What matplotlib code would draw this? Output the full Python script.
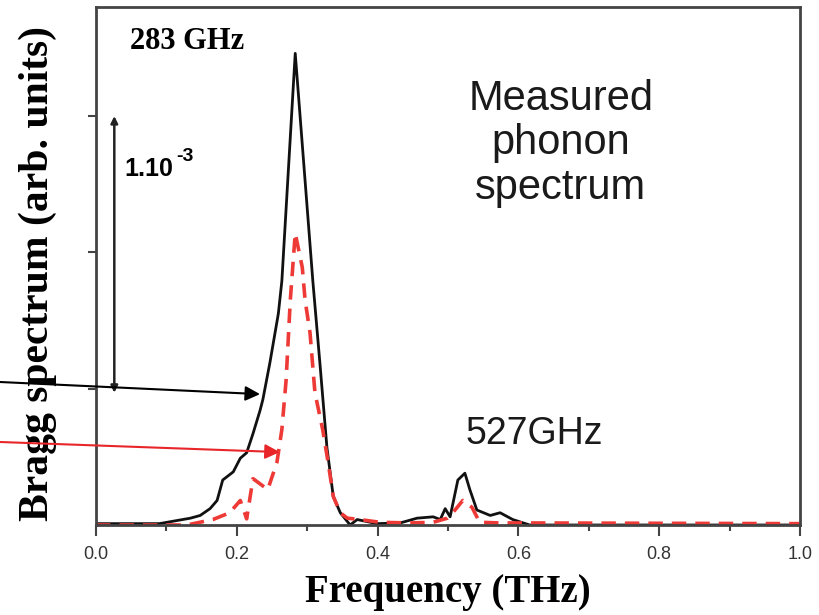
import matplotlib
matplotlib.use('Agg')
import numpy as np
import matplotlib.pyplot as plt
from matplotlib.ticker import MultipleLocator

# measured spectrum (solid black)
freq_meas = [0.0, 0.09, 0.134, 0.148, 0.162, 0.172, 0.180, 0.195, 0.205, 0.214,
             0.223, 0.233, 0.237, 0.247, 0.259, 0.264, 0.283, 0.308, 0.318, 0.328,
             0.337, 0.347, 0.361, 0.371, 0.399, 0.432, 0.456, 0.479, 0.489, 0.496,
             0.503, 0.514, 0.524, 0.531, 0.541, 0.560, 0.574, 0.592, 0.616, 1.0]
amp_meas = [0.01, 0.01, 0.05, 0.07, 0.12, 0.18, 0.33, 0.39, 0.49, 0.53,
            0.67, 0.84, 0.92, 1.19, 1.55, 1.79, 3.46, 1.79, 1.19, 0.57,
            0.21, 0.09, 0.0, 0.04, 0.01, 0.015, 0.05, 0.06, 0.04, 0.12,
            0.06, 0.33, 0.38, 0.26, 0.11, 0.07, 0.09, 0.04, 0.0, 0.0]

# second spectrum (red dashed)
freq_red = [0.0, 0.129, 0.166, 0.190, 0.205, 0.214, 0.223, 0.244, 0.257, 0.264,
            0.270, 0.276, 0.283, 0.293, 0.297, 0.304, 0.311, 0.322, 0.330, 0.337,
            0.347, 0.357, 0.375, 0.403, 0.446, 0.479, 0.499, 0.510, 0.521, 0.534,
            0.545, 0.574, 0.612, 1.0]
amp_red = [0.0, 0.0, 0.04, 0.09, 0.18, 0.045, 0.34, 0.26, 0.46, 0.70,
           1.06, 1.65, 2.14, 1.89, 1.65, 1.41, 0.97, 0.70, 0.45, 0.21,
           0.09, 0.05, 0.04, 0.02, 0.015, 0.02, 0.05, 0.11, 0.18, 0.13,
           0.02, 0.015, 0.015, 0.01]

xticks = [0.0, 0.2, 0.4, 0.6, 0.8, 1.0]
xticklabels = ['0.0', '0.2', '0.4', '0.6', '0.8', '1.0']
yticks = [1, 2, 3]

serif = 'Liberation Serif'
sans = 'Liberation Sans'
red = '#ee3a36'

fig = plt.figure(figsize=(8.2, 6.15), dpi=100)
ax = fig.add_axes([96/820, 90/615, 704/820, 518/615])

ax.plot(freq_meas, amp_meas, color='#111111', lw=2.0)
ax.plot(freq_red, amp_red, color=red, lw=2.6, dashes=(4, 2.5))

ax.set_xlim(0, 1.0)
ax.set_ylim(0, 3.8)
ax.set_xticks(xticks)
ax.set_xticklabels(xticklabels, fontfamily=sans, fontsize=13, color='#333333')
ax.xaxis.set_minor_locator(MultipleLocator(0.1))
ax.set_yticks(yticks)
ax.set_yticklabels([])
ax.tick_params(axis='x', which='major', direction='out', length=8, width=1.5, color='#444444', pad=7)
ax.tick_params(axis='x', which='minor', direction='out', length=4, width=1.5, color='#444444')
ax.tick_params(axis='y', direction='out', length=6, width=1.5, color='#444444')
for s in ax.spines.values():
    s.set_linewidth(2.0)
    s.set_color('#444444')

ax.set_xlabel('Frequency (THz)', fontfamily=serif, fontweight='bold', fontsize=28, labelpad=8)
ax.set_ylabel('Bragg spectrum (arb. units)', fontfamily=serif, fontweight='bold', fontsize=30)
ax.yaxis.set_label_coords(-0.055, 0.485)

# annotations
ax.text(0.048, 0.934, '283 GHz', transform=ax.transAxes, fontfamily=serif, fontweight='bold',
        fontsize=22, va='center', ha='left')
ax.text(0.66, 0.737, 'Measured\nphonon\nspectrum', transform=ax.transAxes, fontfamily=sans,
        fontsize=30, ha='center', va='center', linespacing=1.15, color='#1a1a1a')
ax.text(0.622, 0.175, '527GHz', transform=ax.transAxes, fontfamily=sans, fontsize=27,
        ha='center', va='center', color='#1a1a1a')
ax.text(0.041, 0.687, '1.10', transform=ax.transAxes, fontfamily=sans, fontweight='bold',
        fontsize=18, va='center', ha='left')
ax.text(0.114, 0.712, '-3', transform=ax.transAxes, fontfamily=sans, fontweight='bold',
        fontsize=14, va='center', ha='left')

# scale bar: 2 units = 1e-3
ax.annotate('', xy=(0.026, 3.0), xytext=(0.026, 0.97),
            arrowprops=dict(arrowstyle='<|-|>', color='#222222', lw=1.8,
                            mutation_scale=10, shrinkA=0, shrinkB=0))

# pointer arrows coming from outside the axes
ax.annotate('', xy=(0.233, 0.96), xycoords='data', xytext=(0.0, 233/615),
            textcoords='figure fraction',
            arrowprops=dict(arrowstyle='-|>', color='black', lw=1.5,
                            mutation_scale=22, shrinkA=0, shrinkB=0))
ax.annotate('', xy=(0.261, 0.535), xycoords='data', xytext=(0.0, 173/615),
            textcoords='figure fraction',
            arrowprops=dict(arrowstyle='-|>', color='#e8262a', lw=1.5,
                            mutation_scale=22, shrinkA=0, shrinkB=0))

fig.savefig('out.png', dpi=100)
